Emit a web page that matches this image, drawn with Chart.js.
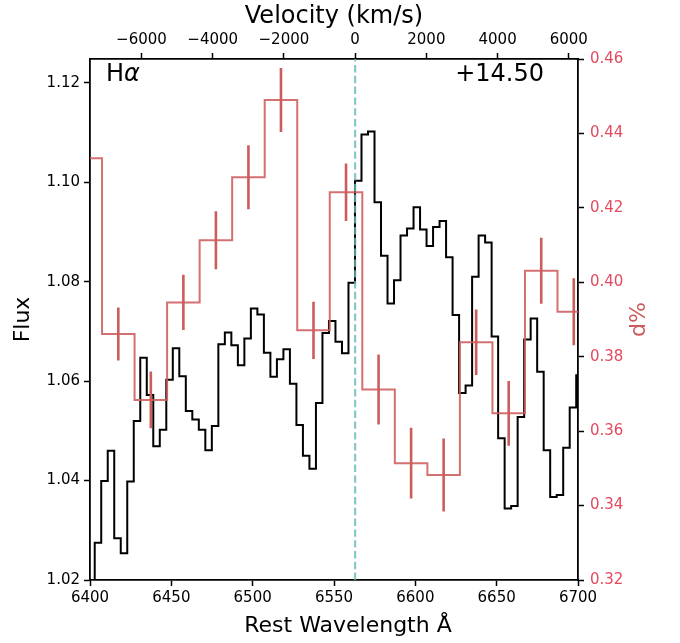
<!DOCTYPE html>
<html><head><meta charset="utf-8">
<script src="https://cdn.jsdelivr.net/npm/chart.js@4.4.1/dist/chart.umd.min.js"></script>
<style>html,body{margin:0;padding:0;background:#fff;} #wrap{width:680px;height:643px;}</style>
</head><body><div id="wrap"><canvas id="c" width="680" height="643"></canvas></div>
<script>
// ---- data ----
const wavelength = [
  6400.9, 6404.9, 6408.9, 6412.9, 6416.9, 6420.9, 6424.9, 6428.9, 6432.9, 6436.9,
  6440.9, 6444.9, 6448.9, 6452.9, 6456.9, 6460.9, 6464.9, 6468.9, 6472.9, 6476.9,
  6480.9, 6484.9, 6488.9, 6492.9, 6496.9, 6500.9, 6504.9, 6508.9, 6512.9, 6516.9,
  6520.9, 6524.9, 6528.9, 6532.9, 6536.9, 6540.9, 6544.9, 6548.9, 6552.9, 6556.9,
  6560.9, 6564.9, 6568.9, 6572.9, 6576.9, 6580.9, 6584.9, 6588.9, 6592.9, 6596.9,
  6600.9, 6604.9, 6608.9, 6612.9, 6616.9, 6620.9, 6624.9, 6628.9, 6632.9, 6636.9,
  6640.9, 6644.9, 6648.9, 6652.9, 6656.9, 6660.9, 6664.9, 6668.9, 6672.9, 6676.9,
  6680.9, 6684.9, 6688.9, 6692.9, 6696.9, 6700.9
];
const flux = [
  1.0120, 1.0275, 1.0399, 1.0460, 1.0284, 1.0254, 1.0398, 1.0520, 1.0647, 1.0572,
  1.0469, 1.0502, 1.0603, 1.0666, 1.0610, 1.0540, 1.0523, 1.0502, 1.0461, 1.0510,
  1.0674, 1.0698, 1.0672, 1.0632, 1.0686, 1.0746, 1.0734, 1.0657, 1.0609, 1.0644,
  1.0664, 1.0595, 1.0512, 1.0450, 1.0424, 1.0556, 1.0697, 1.0721, 1.0679, 1.0656,
  1.0798, 1.1003, 1.1096, 1.1102, 1.0960, 1.0852, 1.0756, 1.0803, 1.0893, 1.0907,
  1.0950, 1.0905, 1.0872, 1.0910, 1.0922, 1.0849, 1.0733, 1.0576, 1.0591, 1.0810,
  1.0893, 1.0879, 1.0690, 1.0485, 1.0344, 1.0349, 1.0528, 1.0684, 1.0726, 1.0619,
  1.0461, 1.0367, 1.0371, 1.0466, 1.0547, 1.0612
];
const polWavelength = [6397.4, 6417.4, 6437.4, 6457.4, 6477.4, 6497.4, 6517.4, 6537.4,
                       6557.4, 6577.4, 6597.4, 6617.4, 6637.4, 6657.4, 6677.4, 6697.4];
const polValue = [0.4333, 0.3861, 0.3684, 0.3946, 0.4113, 0.4282, 0.4490, 0.3871,
                  0.4242, 0.3712, 0.3514, 0.3482, 0.3839, 0.3648, 0.4031, 0.3921];
const polError = [0.0080, 0.0071, 0.0076, 0.0074, 0.0078, 0.0086, 0.0086, 0.0077,
                  0.0077, 0.0094, 0.0095, 0.0098, 0.0088, 0.0087, 0.0089, 0.0090];
const wavelengthTicks = [6400, 6450, 6500, 6550, 6600, 6650, 6700];
const velocityTicks = [-6000, -4000, -2000, 0, 2000, 4000, 6000];
const fluxTicks = [1.02, 1.04, 1.06, 1.08, 1.10, 1.12];
const polTicks = [0.32, 0.34, 0.36, 0.38, 0.40, 0.42, 0.44, 0.46];
const restWavelength = 6563;
const wavelengthRange = [6400, 6700];
const fluxRange = [1.02, 1.1248];
const polRange = [0.32, 0.46];
const lineName = ['H', 'α'];
const epochText = '+14.50';
const xTitle = 'Rest Wavelength Å';

// ---- derived structures ----
const C_KMS = 299792.458;
const velMin = C_KMS * (wavelengthRange[0] / restWavelength - 1);
const velMax = C_KMS * (wavelengthRange[1] / restWavelength - 1);

const fluxPoints = wavelength.map((w, i) => ({x: w, y: flux[i]}));
const polPoints = polWavelength.map((w, i) => ({x: w, y: polValue[i]}));
const halfBin = (polWavelength[1] - polWavelength[0]) / 2;
polPoints.push({x: polWavelength[polWavelength.length - 1] + halfBin, y: polValue[polValue.length - 1]});
const errPoints = [];
polWavelength.forEach((w, i) => {
  errPoints.push({x: w, y: polValue[i] - polError[i]});
  errPoints.push({x: w, y: polValue[i] + polError[i]});
  errPoints.push({x: w, y: null});
});
const restPoints = [{x: restWavelength, y: fluxRange[0]}, {x: restWavelength, y: fluxRange[1]}];

const FONT = '"DejaVu Sans", "Liberation Sans", sans-serif';
const RED = '#cd5c5c';
const RED_TICK = '#e34a5f';

function fixedTicks(arr) { return (scale) => { scale.ticks = arr.map(v => ({value: v})); }; }
const axisGrid = {display: true, drawOnChartArea: false, drawTicks: true, tickLength: 6, tickWidth: 1.5, tickColor: '#000'};
const axisBorder = {display: true, color: '#000', width: 1.8};

const annotPlugin = {
  id: 'annot',
  afterDraw(chart) {
    const {ctx, chartArea: a} = chart;
    ctx.save();
    ctx.textBaseline = 'middle';
    ctx.fillStyle = '#000';
    ctx.font = '24px ' + FONT;
    ctx.textAlign = 'left';
    const x0 = a.left + 16, y0 = a.top + 16;
    ctx.fillText(lineName[0], x0, y0);
    const w = ctx.measureText(lineName[0]).width;
    ctx.font = 'italic 24px ' + FONT;
    ctx.fillText(lineName[1], x0 + w, y0);
    ctx.font = '24px ' + FONT;
    ctx.textAlign = 'right';
    ctx.fillText(epochText, a.right - 34, y0);
    // bottom axis title
    ctx.font = '22px ' + FONT;
    ctx.textAlign = 'center';
    ctx.fillText(xTitle, (a.left + a.right) / 2 + 14, 626);
    // right axis title (reads bottom-to-top)
    ctx.translate(639, (a.top + a.bottom) / 2);
    ctx.rotate(-Math.PI / 2);
    ctx.fillStyle = RED;
    ctx.font = '22px ' + FONT;
    ctx.fillText('d%', 0, 0);
    ctx.restore();
  }
};

new Chart(document.getElementById('c'), {
  type: 'line',
  data: {
    datasets: [
      {data: errPoints, xAxisID: 'x', yAxisID: 'y2', borderColor: RED, borderWidth: 2.6,
       pointRadius: 0, spanGaps: false, clip: 0, borderCapStyle: 'butt'},
      {data: polPoints, xAxisID: 'x', yAxisID: 'y2', borderColor: 'rgba(205,92,92,0.88)', borderWidth: 2,
       pointRadius: 0, stepped: 'middle', clip: 0},
      {data: restPoints, xAxisID: 'x', yAxisID: 'y', borderColor: 'rgba(102,187,180,0.8)', borderWidth: 2.2,
       borderDash: [7.4, 3.4], pointRadius: 0, clip: 0},
      {data: fluxPoints, xAxisID: 'x', yAxisID: 'y', borderColor: '#000', borderWidth: 2,
       pointRadius: 0, stepped: 'middle', clip: 0}
    ]
  },
  options: {
    responsive: false,
    animation: false,
    devicePixelRatio: 1,
    layout: {padding: 0},
    plugins: {legend: {display: false}, tooltip: {enabled: false}},
    scales: {
      x: {
        type: 'linear', position: 'bottom', min: wavelengthRange[0], max: wavelengthRange[1],
        afterBuildTicks: fixedTicks(wavelengthTicks),
        afterFit: (s) => { s.height = 63; },
        grid: axisGrid, border: axisBorder,
        ticks: {autoSkip: false, maxRotation: 0, padding: 3, color: '#000',
                font: {family: FONT, size: 15}, callback: (v) => String(v)},
        title: {display: false}
      },
      xTop: {
        type: 'linear', position: 'top', min: velMin, max: velMax,
        afterBuildTicks: fixedTicks(velocityTicks),
        afterFit: (s) => { s.height = 59; },
        grid: axisGrid, border: axisBorder,
        ticks: {autoSkip: false, maxRotation: 0, padding: 4, color: '#000',
                font: {family: FONT, size: 15},
                callback: (v) => v < 0 ? '\u2212' + Math.abs(v) : String(v)},
        title: {display: true, text: 'Velocity (km/s)', color: '#000',
                font: {family: FONT, size: 24}, padding: {top: 2, bottom: 0}}
      },
      y: {
        type: 'linear', position: 'left', min: fluxRange[0], max: fluxRange[1],
        afterBuildTicks: fixedTicks(fluxTicks),
        afterFit: (s) => { s.width = 90; },
        grid: axisGrid, border: axisBorder,
        ticks: {autoSkip: false, padding: 4, color: '#000',
                font: {family: FONT, size: 15}, callback: (v) => v.toFixed(2)},
        title: {display: true, text: 'Flux', color: '#000',
                font: {family: FONT, size: 22}, padding: {top: 10, bottom: 0}}
      },
      y2: {
        type: 'linear', position: 'right', min: polRange[0], max: polRange[1],
        afterBuildTicks: fixedTicks(polTicks),
        afterFit: (s) => { s.width = 102; },
        grid: axisGrid, border: axisBorder,
        ticks: {autoSkip: false, padding: 6, color: RED_TICK,
                font: {family: FONT, size: 15}, callback: (v) => v.toFixed(2)},
        title: {display: false}
      }
    }
  },
  plugins: [annotPlugin]
});
</script>
</body></html>
